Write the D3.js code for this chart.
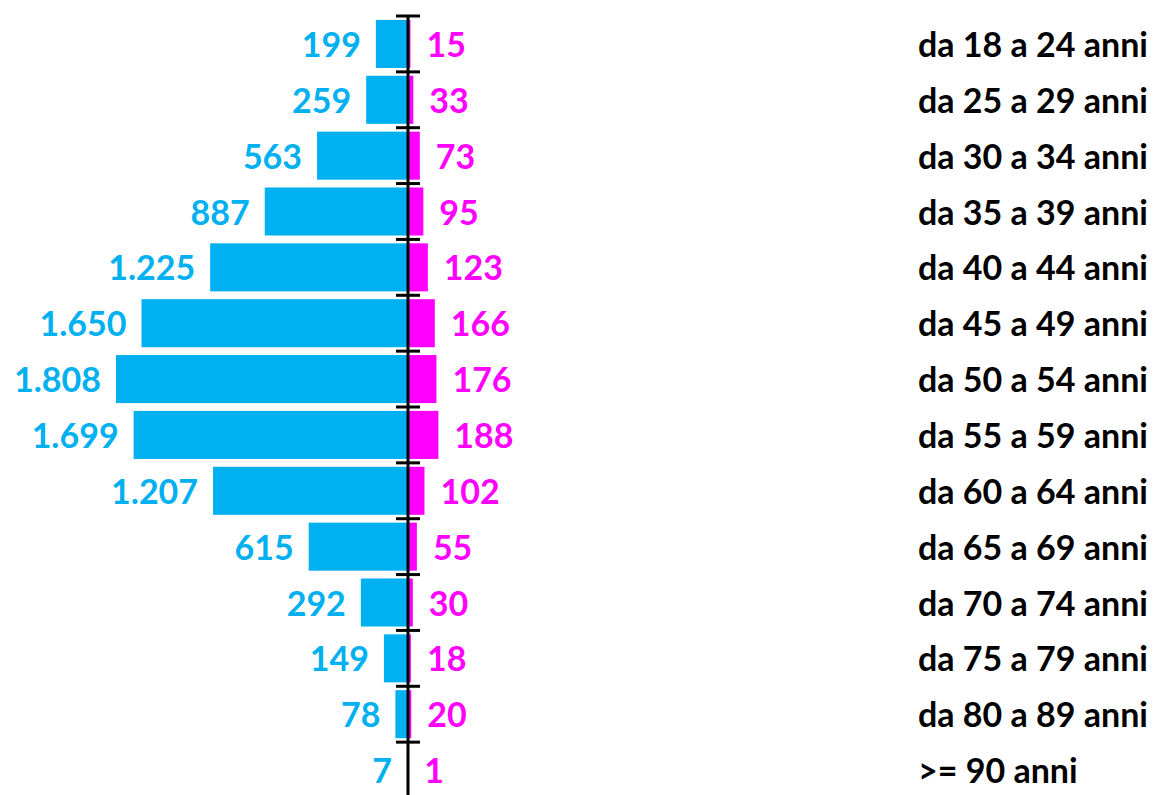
<!DOCTYPE html>
<html><head><meta charset="utf-8">
<script src="https://cdn.jsdelivr.net/npm/d3@7"></script>
<style>
html,body{margin:0;padding:0;background:#fff;overflow:hidden}
text{font-family:Lato,"Open Sans",sans-serif;font-weight:700}
</style></head>
<body>
<svg id="chart" width="1155" height="795"></svg>
<script>
const categories = ["da 18 a 24 anni","da 25 a 29 anni","da 30 a 34 anni","da 35 a 39 anni","da 40 a 44 anni","da 45 a 49 anni","da 50 a 54 anni","da 55 a 59 anni","da 60 a 64 anni","da 65 a 69 anni","da 70 a 74 anni","da 75 a 79 anni","da 80 a 89 anni",">= 90 anni"];
const maleValues = [199,259,563,887,1225,1650,1808,1699,1207,615,292,149,78,7];
const femaleValues = [15,33,73,95,123,166,176,188,102,55,30,18,20,1];

(function(){
const svg = d3.select("#chart");
const axisX = 408;
const fontSize = 34;

const y = d3.scaleBand().domain(categories).range([16, 798]).paddingInner(0.14).paddingOuter(0.07);
const x = d3.scaleLinear().domain([-2000, 2000]).range([axisX - 323, axisX + 323]);
const fmt = v => d3.format(",")(v).replace(/,/g, ".");

const rows = categories.map((c, i) => ({c, m: maleValues[i], f: femaleValues[i]}));

svg.selectAll("rect.m").data(rows).join("rect")
  .attr("class","m")
  .attr("x", d => x(-d.m)).attr("width", d => x(0) - x(-d.m))
  .attr("y", d => y(d.c)).attr("height", y.bandwidth())
  .attr("fill", "#00B0F0");

svg.selectAll("rect.f").data(rows).join("rect")
  .attr("class","f")
  .attr("x", x(0)).attr("width", d => x(d.f) - x(0))
  .attr("y", d => y(d.c)).attr("height", y.bandwidth())
  .attr("fill", "#FF00FF");

// axis
const step = y.step();
const y0 = y(categories[0]) - step * y.paddingInner() / 2;
const ticks = d3.range(categories.length + 1).map(i => y0 + i * step);
svg.append("line").attr("x1", x(0)).attr("x2", x(0)).attr("y1", ticks[0]).attr("y2", ticks[ticks.length-1])
  .attr("stroke", "#000").attr("stroke-width", 3);
svg.selectAll("line.tick").data(ticks).join("line").attr("class","tick")
  .attr("x1", x(0) - 12).attr("x2", x(0) + 12).attr("y1", d => d).attr("y2", d => d)
  .attr("stroke", "#000").attr("stroke-width", 3);

const cy = d => y(d.c) + y.bandwidth() / 2 + 13;

svg.selectAll("text.ml").data(rows).join("text").attr("class","ml")
  .attr("x", d => x(-d.m) - 15).attr("y", cy)
  .attr("text-anchor", "end").attr("fill", "#00B0F0").attr("font-size", fontSize)
  .text(d => fmt(d.m));

svg.selectAll("text.fl").data(rows).join("text").attr("class","fl")
  .attr("x", d => x(d.f) + 16).attr("y", cy)
  .attr("text-anchor", "start").attr("fill", "#FF00FF").attr("font-size", fontSize)
  .text(d => fmt(d.f));

svg.selectAll("text.cl").data(rows).join("text").attr("class","cl")
  .attr("x", 918).attr("y", cy)
  .attr("text-anchor", "start").attr("fill", "#000").attr("font-size", fontSize)
  .text(d => d.c);
})();
</script>
</body></html>
